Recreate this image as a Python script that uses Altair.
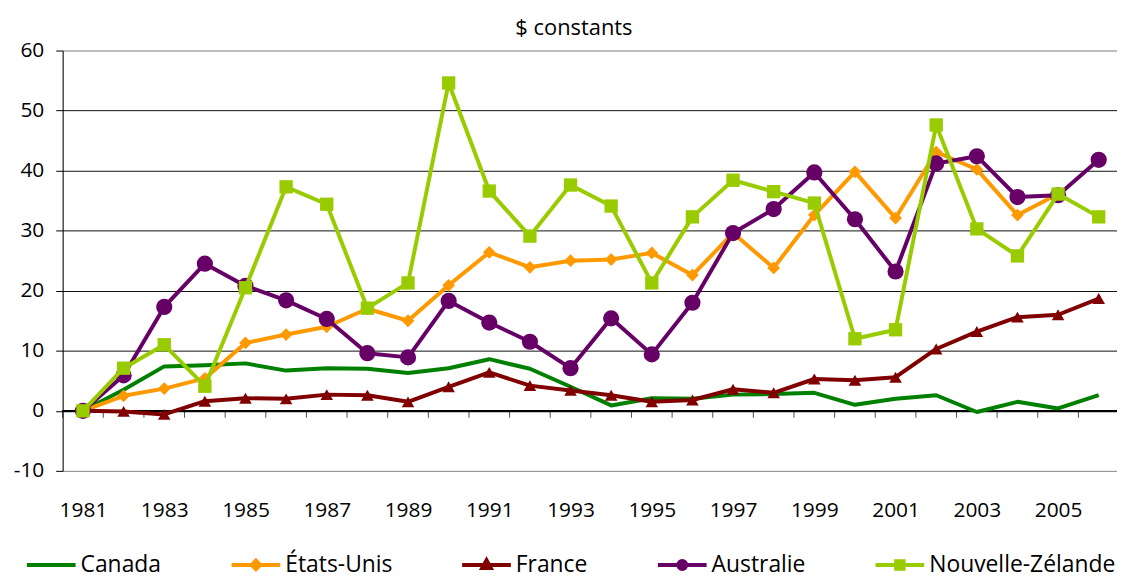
import altair as alt
import pandas as pd

years = list(range(1981, 2007))
pays = ["Canada", "États-Unis", "France", "Australie", "Nouvelle-Zélande"]
couleurs = ["#008000", "#FF9900", "#800000", "#660066", "#99CC00"]

canada = [0, 3.5, 7.4, 7.6, 7.9, 6.7, 7.1, 7.0, 6.3, 7.1, 8.6, 7.0, 4.0, 0.9, 2.1, 2.0,
          2.7, 2.8, 3.0, 1.0, 2.0, 2.6, -0.2, 1.5, 0.4, 2.6]
etats_unis = [0, 2.5, 3.7, 5.4, 11.3, 12.7, 14.0, 17.0, 15.0, 20.9, 26.4, 23.9, 25.0, 25.2,
              26.3, 22.6, 29.6, 23.8, 32.6, 39.8, 32.1, 43.1, 40.2, 32.6, 36.1, None]
france = [0, -0.1, -0.6, 1.6, 2.1, 2.0, 2.7, 2.6, 1.5, 4.0, 6.4, 4.2, 3.4, 2.6, 1.5, 1.8,
          3.6, 3.0, 5.3, 5.1, 5.6, 10.3, 13.2, 15.6, 16.0, 18.7]
australie = [0, 5.9, 17.3, 24.5, 20.8, 18.4, 15.3, 9.6, 8.9, 18.3, 14.7, 11.5, 7.1, 15.4,
             9.4, 18.0, 29.6, 33.6, 39.7, 31.9, 23.2, 41.2, 42.4, 35.6, 35.9, 41.8]
nouvelle_zelande = [0, 7.1, 11.0, 4.1, 20.5, 37.3, 34.4, 17.1, 21.3, 54.6, 36.6, 29.1, 37.6,
                    34.1, 21.3, 32.3, 38.4, 36.5, 34.6, 12.0, 13.5, 47.6, 30.3, 25.8, 36.1, 32.3]

series = [canada, etats_unis, france, australie, nouvelle_zelande]
y_ticks = [-10, 0, 10, 20, 30, 40, 50, 60]
x_labels = list(range(1981, 2006, 2))

rows = []
for p, vals in zip(pays, series):
    for yr, v in zip(years, vals):
        if v is not None:
            rows.append({"Annee": yr, "Valeur": v, "Pays": p})
df = pd.DataFrame(rows)
bounds_df = pd.DataFrame({"Annee": [y - 0.5 for y in years]})

FONT = "Open Sans"
x_scale = alt.Scale(domain=[1980.5, 2006.45], nice=False, zero=False)
y_scale = alt.Scale(domain=[-10, 60], nice=False)

label_axis = alt.Axis(values=x_labels, labelExpr="'' + datum.value", ticks=False,
                      domain=False, grid=False, labelPadding=29, labelFont=FONT,
                      labelFontSize=21, labelColor="#000000", title=None, orient="bottom")
y_axis = alt.Axis(values=y_ticks, labelExpr="'' + datum.value", grid=True,
                  gridColor={"condition": {"test": "datum.value == 60 || datum.value == -10",
                                           "value": "#8c8c8c"}, "value": "#111111"},
                  gridWidth=1, domain=True, domainColor="#000000", ticks=True, tickSize=7,
                  tickColor="#000000", labelPadding=12, labelFont=FONT, labelFontSize=21,
                  labelColor="#000000", title=None)

X = alt.X("Annee:Q", scale=x_scale, axis=label_axis)
Y = alt.Y("Valeur:Q", scale=y_scale, axis=y_axis)

marker_shapes = {"États-Unis": ("diamond", 165), "France": ("triangle-up", 160),
                 "Australie": ("circle", 265), "Nouvelle-Zélande": ("square", 180)}

layers = []
# zero line with category ticks
layers.append(alt.Chart(bounds_df).mark_rule(color="#000000", strokeWidth=1).encode(
    y=alt.datum(0, scale=y_scale, axis=y_axis)))
layers.append(alt.Chart(bounds_df).mark_tick(color="#000000", thickness=1, size=7,
                                             orient="vertical", yOffset=3.5).encode(
    x=X, y=alt.datum(0, scale=y_scale, axis=y_axis)))

for p, c in zip(pays, couleurs):
    base = alt.Chart(df).transform_filter(alt.datum.Pays == p)
    layers.append(base.mark_line(strokeWidth=4, strokeJoin="round", color=c).encode(x=X, y=Y))
    if p in marker_shapes:
        shp, sz = marker_shapes[p]
        layers.append(base.mark_point(filled=True, opacity=1, shape=shp, size=sz, color=c)
                      .encode(x=X, y=Y))

legend_paths = [
    "M-4.9,0L4.9,0",
    "M-4.9,0L4.9,0M0,-0.85L0.85,0L0,0.85L-0.85,0Z",
    "M-4.9,0L4.9,0M0,-0.95L0.85,0.6L-0.85,0.6Z",
    "M-4.9,0L4.9,0M-0.8,0A0.8,0.8,0,1,1,0.8,0A0.8,0.8,0,1,1,-0.8,0Z",
    "M-4.9,0L4.9,0M-0.75,-0.75L0.75,-0.75L0.75,0.75L-0.75,0.75Z",
]
leg = alt.Legend(title=None, orient="none", legendX=-43, legendY=506, direction="horizontal",
                 symbolSize=100, symbolStrokeWidth=4, symbolOffset=20, labelOffset=18,
                 columnPadding=62, labelFont=FONT, labelFontSize=23, labelColor="#000000",
                 labelLimit=400, symbolOpacity=1)
legend_layer = alt.Chart(df).transform_filter("false").mark_point(
    filled=True, size=100, opacity=1).encode(
    x=X, y=Y,
    fill=alt.Fill("Pays:N", scale=alt.Scale(domain=pays, range=couleurs), legend=leg),
    stroke=alt.Stroke("Pays:N", scale=alt.Scale(domain=pays, range=couleurs), legend=leg),
    shape=alt.Shape("Pays:N", scale=alt.Scale(domain=pays, range=legend_paths), legend=leg),
)
layers.append(legend_layer)

chart = alt.layer(*layers).properties(
    width=1061, height=423,
    autosize=alt.AutoSizeParams(type="none"),
    padding={"left": 55, "top": 41, "right": 0, "bottom": 106},
    title=alt.TitleParams("$ constants", font=FONT, fontSize=22, fontWeight="normal",
                          anchor="middle", frame="group", offset=0, dx=-16, color="#000000"),
).configure_view(strokeWidth=0).configure(background="white")

chart.save("out.html", embed_options={"renderer": "svg", "actions": False})
